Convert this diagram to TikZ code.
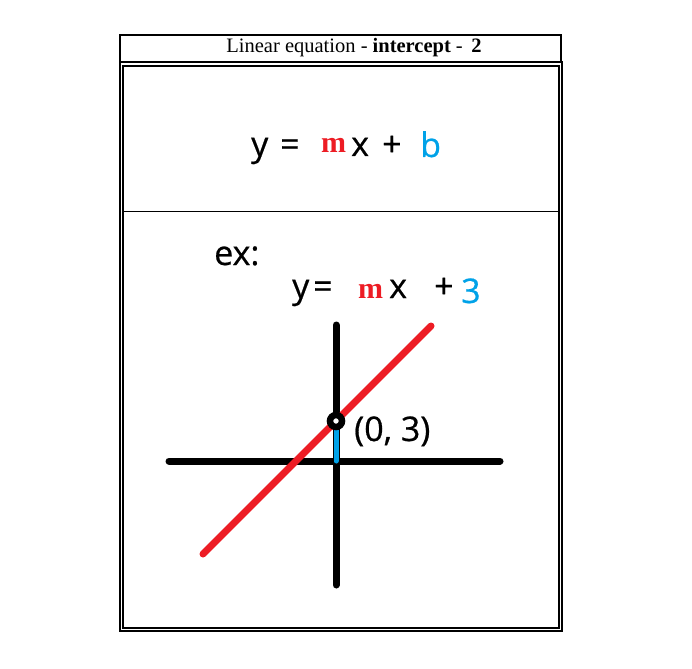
\documentclass[tikz,border=0pt]{standalone}
\usepackage{fontspec}
\setmainfont{Liberation Serif}
\newfontfamily\uisans[FakeBold=0.6]{Open Sans}
\definecolor{pred}{HTML}{ED1C24}
\definecolor{pblue}{HTML}{00A2E8}
\tikzset{
  frame/.style={draw=black, line width=1.2pt},
  axis/.style={draw=black, line width=7pt, line cap=round},
  redline/.style={draw=pred, line width=7pt, line cap=round},
  blueline/.style={draw=pblue, line width=5pt, line cap=round},
  big/.style={inner sep=0pt, anchor=base west, font=\uisans\fontsize{34}{40}\selectfont},
  mred/.style={inner sep=0pt, anchor=base west, text=pred, font=\bfseries\fontsize{30}{34}\selectfont},
}
\begin{document}
\begin{tikzpicture}[x=1pt, y=-1pt]
\useasboundingbox (0,0) rectangle (692,668);
% frames
\draw[frame] (120,35) rectangle (561,62);
\draw[frame] (120,62) rectangle (562,631);
\draw[frame] (123,66) rectangle (559,628);
\draw[draw=black, line width=1pt] (123,211) -- (559,211);
% title
\node[inner sep=0pt, font=\fontsize{20.5}{24}\selectfont] (title) at (354,48)
  {Linear equation - \textbf{intercept} - \,\textbf{2}};
% general formula
\node[big] (fy) at (251,156) {y};
\node[big] (feq) at (280,156) {=};
\node[mred] (fm) at (321,153) {m};
\node[big] (fx) at (351,156) {x};
\node[big] (fplus) at (382,156) {+};
\node[big, text=pblue] (fb) at (420,157) {b};
% example
\node[big] (ex) at (214,265) {ex:};
\node[big] (ey) at (292,298) {y};
\node[big] (eeq) at (313,298) {=};
\node[mred] (em) at (358,298) {m};
\node[big] (ex2) at (389,298) {x};
\node[big] (eplus) at (434,298) {+};
\node[big, text=pblue] (e3) at (461,303) {3};
% axes and lines
\draw[axis] (336,325) -- (336,585);
\draw[axis] (169,461) -- (500,461);
\draw[redline] (203,554) -- (431,326);
\draw[blueline] (336,428) -- (336,461);
\draw[draw=black, fill=white, line width=6.5pt] (336,421) circle (6);
\node[inner sep=0pt, anchor=base west, font=\uisans\fontsize{34}{40}\selectfont] (pt) at (354,441) {(0, 3)};
\end{tikzpicture}
\end{document}
